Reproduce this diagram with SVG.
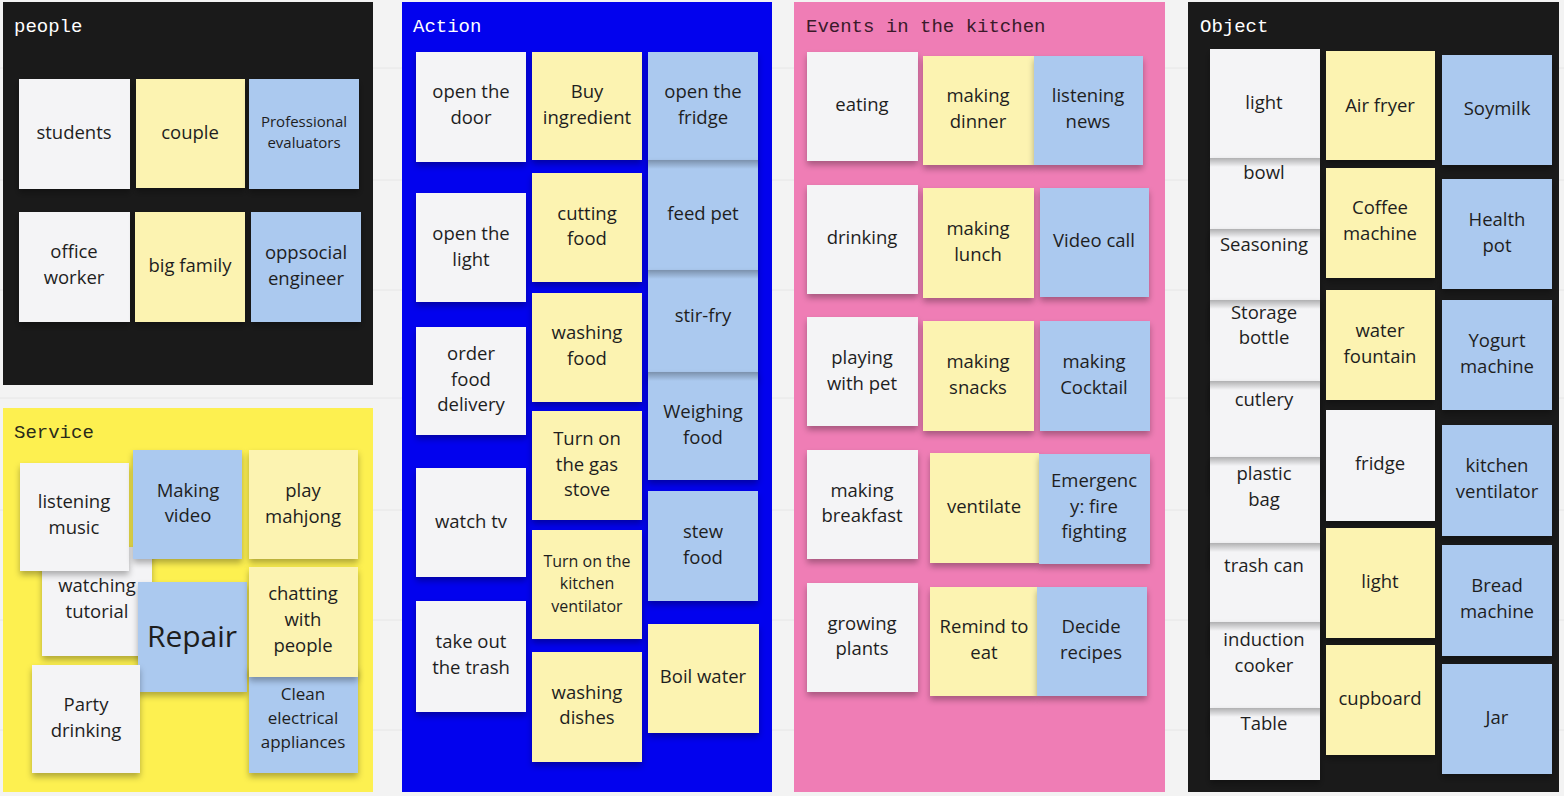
<svg xmlns="http://www.w3.org/2000/svg" width="1564" height="796" viewBox="0 0 1564 796">
<style>
.bg{fill:#f3f3f3}
.w{fill:#f4f4f6}
.y{fill:#fcf3b1}
.b{fill:#abc9ef}
.s{filter:url(#sh)}
.t{font-family:"Open Sans","Noto Sans",sans-serif;font-size:18.5px;fill:#1e1e1e;text-anchor:middle}
.sm{font-size:15px}
.m16{font-size:16px}
.m17{font-size:17px}
.big{font-size:30px}
.title{font-family:"Liberation Mono","DejaVu Sans Mono",monospace;font-size:19px}
.peel{fill:url(#pg)}
</style>
<defs>
<filter id="sh" x="-10%" y="-10%" width="120%" height="130%">
<feDropShadow dx="0" dy="4" stdDeviation="3" flood-color="#000" flood-opacity="0.3"/>
</filter>
<linearGradient id="pg" x1="0" y1="0" x2="0" y2="1">
<stop offset="0" stop-color="#000" stop-opacity="0.28"/>
<stop offset="1" stop-color="#000" stop-opacity="0"/>
</linearGradient>
</defs>
<rect class="bg" x="0" y="0" width="1564" height="796"/>
<g stroke="#e6e6e6" stroke-width="1">
<line x1="0" y1="68" x2="1564" y2="68"/>
<line x1="0" y1="180" x2="1564" y2="180"/>
<line x1="0" y1="290" x2="1564" y2="290"/>
<line x1="0" y1="398" x2="1564" y2="398"/>
<line x1="0" y1="510" x2="1564" y2="510"/>
<line x1="0" y1="620" x2="1564" y2="620"/>
<line x1="0" y1="730" x2="1564" y2="730"/>
</g>

<!-- Panels -->
<g id="panel-people">
<rect x="3" y="2" width="370" height="383" fill="#1a1a1a"/>
<text class="title" x="14" y="32" fill="#ffffff">people</text>
</g>
<g id="panel-service">
<rect x="3" y="408" width="370" height="384" fill="#fdf050"/>
<text class="title" x="14" y="438" fill="#2a2a1a">Service</text>
</g>
<g id="panel-action">
<rect x="402" y="2" width="370" height="790" fill="#0202ee"/>
<text class="title" x="413" y="32" fill="#ffffff">Action</text>
</g>
<g id="panel-events">
<rect x="794" y="2" width="371" height="790" fill="#ef7db5"/>
<text class="title" x="806" y="32" fill="#3a1a2a">Events in the kitchen</text>
</g>
<g id="panel-object">
<rect x="1188" y="2" width="371" height="790" fill="#1a1a1a"/>
<text class="title" x="1200" y="32" fill="#ffffff">Object</text>
</g>

<!-- People -->
<g id="p-students"><rect class="w s" x="19" y="79" width="111" height="110"/><text class="t" x="74" y="139">students</text></g>
<g id="p-couple"><rect class="y s" x="136" y="79" width="109" height="109"/><text class="t" x="190" y="139">couple</text></g>
<g id="p-evaluators"><rect class="b s" x="249" y="79" width="110" height="110"/><text class="t sm" x="304" y="127">Professional</text><text class="t sm" x="304" y="148">evaluators</text></g>
<g id="p-office"><rect class="w s" x="19" y="212" width="111" height="110"/><text class="t" x="74" y="258">office</text><text class="t" x="74" y="284">worker</text></g>
<g id="p-bigfamily"><rect class="y s" x="135" y="212" width="110" height="110"/><text class="t" x="190" y="272">big family</text></g>
<g id="p-engineer"><rect class="b s" x="251" y="212" width="110" height="110"/><text class="t" x="306" y="259">oppsocial</text><text class="t" x="306" y="285">engineer</text></g>

<!-- Service -->
<g id="s-tutorial"><rect class="w s" x="42" y="547" width="110" height="109"/><text class="t" x="97" y="592">watching</text><text class="t" x="97" y="618">tutorial</text></g>
<g id="s-music"><rect class="w s" x="20" y="463" width="109" height="108"/><text class="t" x="74" y="508">listening</text><text class="t" x="74" y="534">music</text></g>
<g id="s-video"><rect class="b s" x="133" y="450" width="109" height="109"/><text class="t" x="188" y="497">Making</text><text class="t" x="188" y="522">video</text></g>
<g id="s-mahjong"><rect class="y s" x="249" y="450" width="109" height="109"/><text class="t" x="303" y="497">play</text><text class="t" x="303" y="523">mahjong</text></g>
<g id="s-repair"><rect class="b s" x="138" y="582" width="109" height="110"/><text class="t big" x="192" y="647">Repair</text></g>
<g id="s-party"><rect class="w s" x="32" y="665" width="108" height="108"/><text class="t" x="86" y="711">Party</text><text class="t" x="86" y="737">drinking</text></g>
<g id="s-clean"><rect class="b s" x="249" y="666" width="109" height="107"/><text class="t m17" x="303" y="700">Clean</text><text class="t m17" x="303" y="724">electrical</text><text class="t m17" x="303" y="748">appliances</text></g>
<g id="s-chatting"><rect class="y s" x="249" y="567" width="109" height="110"/><text class="t" x="303" y="600">chatting</text><text class="t" x="303" y="626">with</text><text class="t" x="303" y="652">people</text></g>

<!-- Action -->
<g id="a-door"><rect class="w s" x="416" y="52" width="110" height="110"/><text class="t" x="471" y="98">open the</text><text class="t" x="471" y="124">door</text></g>
<g id="a-light"><rect class="w s" x="416" y="193" width="110" height="109"/><text class="t" x="471" y="240">open the</text><text class="t" x="471" y="266">light</text></g>
<g id="a-delivery"><rect class="w s" x="416" y="327" width="110" height="108"/><text class="t" x="471" y="360">order</text><text class="t" x="471" y="386">food</text><text class="t" x="471" y="411">delivery</text></g>
<g id="a-tv"><rect class="w s" x="416" y="468" width="110" height="109"/><text class="t" x="471" y="528">watch tv</text></g>
<g id="a-trash"><rect class="w s" x="416" y="601" width="110" height="111"/><text class="t" x="471" y="648">take out</text><text class="t" x="471" y="674">the trash</text></g>
<g id="a-buy"><rect class="y s" x="532" y="52" width="110" height="108"/><text class="t" x="587" y="98">Buy</text><text class="t" x="587" y="124">ingredient</text></g>
<g id="a-cutting"><rect class="y s" x="532" y="173" width="110" height="109"/><text class="t" x="587" y="220">cutting</text><text class="t" x="587" y="245">food</text></g>
<g id="a-washfood"><rect class="y s" x="532" y="293" width="110" height="109"/><text class="t" x="587" y="339">washing</text><text class="t" x="587" y="365">food</text></g>
<g id="a-gas"><rect class="y s" x="532" y="411" width="110" height="109"/><text class="t" x="587" y="445">Turn on</text><text class="t" x="587" y="471">the gas</text><text class="t" x="587" y="496">stove</text></g>
<g id="a-ventilator"><rect class="y s" x="532" y="530" width="110" height="109"/><text class="t m16" x="587" y="567">Turn on the</text><text class="t m16" x="587" y="589">kitchen</text><text class="t m16" x="587" y="612">ventilator</text></g>
<g id="a-dishes"><rect class="y s" x="532" y="652" width="110" height="110"/><text class="t" x="587" y="699">washing</text><text class="t" x="587" y="724">dishes</text></g>
<g id="a-fridge"><rect class="b s" x="648" y="52" width="110" height="110"/><text class="t" x="703" y="98">open the</text><text class="t" x="703" y="124">fridge</text></g>
<g id="a-feed"><rect class="b s" x="648" y="160" width="110" height="110"/><rect class="peel" x="648" y="160" width="110" height="9"/><text class="t" x="703" y="220">feed pet</text></g>
<g id="a-stirfry"><rect class="b s" x="648" y="270" width="110" height="110"/><rect class="peel" x="648" y="270" width="110" height="9"/><text class="t" x="703" y="322">stir-fry</text></g>
<g id="a-weighing"><rect class="b s" x="648" y="372" width="110" height="108"/><rect class="peel" x="648" y="372" width="110" height="9"/><text class="t" x="703" y="418">Weighing</text><text class="t" x="703" y="444">food</text></g>
<g id="a-stew"><rect class="b s" x="648" y="491" width="110" height="110"/><text class="t" x="703" y="538">stew</text><text class="t" x="703" y="564">food</text></g>
<g id="a-boil"><rect class="y s" x="648" y="624" width="111" height="109"/><text class="t" x="703" y="683">Boil water</text></g>

<!-- Events -->
<g id="e-eating"><rect class="w s" x="807" y="52" width="111" height="109"/><text class="t" x="862" y="111">eating</text></g>
<g id="e-drinking"><rect class="w s" x="807" y="185" width="111" height="109"/><text class="t" x="862" y="244">drinking</text></g>
<g id="e-pet"><rect class="w s" x="807" y="317" width="111" height="109"/><text class="t" x="862" y="364">playing</text><text class="t" x="862" y="390">with pet</text></g>
<g id="e-breakfast"><rect class="w s" x="807" y="450" width="111" height="109"/><text class="t" x="862" y="497">making</text><text class="t" x="862" y="522">breakfast</text></g>
<g id="e-plants"><rect class="w s" x="807" y="583" width="111" height="109"/><text class="t" x="862" y="630">growing</text><text class="t" x="862" y="655">plants</text></g>
<g id="e-dinner"><rect class="y s" x="923" y="56" width="111" height="109"/><text class="t" x="978" y="102">making</text><text class="t" x="978" y="128">dinner</text></g>
<g id="e-lunch"><rect class="y s" x="923" y="188" width="111" height="110"/><text class="t" x="978" y="235">making</text><text class="t" x="978" y="261">lunch</text></g>
<g id="e-snacks"><rect class="y s" x="923" y="321" width="111" height="110"/><text class="t" x="978" y="368">making</text><text class="t" x="978" y="394">snacks</text></g>
<g id="e-ventilate"><rect class="y s" x="930" y="453" width="109" height="110"/><text class="t" x="984" y="513">ventilate</text></g>
<g id="e-remind"><rect class="y s" x="930" y="587" width="107" height="109"/><text class="t" x="984" y="633">Remind to</text><text class="t" x="984" y="659">eat</text></g>
<g id="e-news"><rect class="b s" x="1034" y="56" width="109" height="109"/><text class="t" x="1088" y="102">listening</text><text class="t" x="1088" y="128">news</text></g>
<g id="e-videocall"><rect class="b s" x="1040" y="188" width="109" height="109"/><text class="t" x="1094" y="247">Video call</text></g>
<g id="e-cocktail"><rect class="b s" x="1040" y="321" width="110" height="110"/><text class="t" x="1094" y="368">making</text><text class="t" x="1094" y="394">Cocktail</text></g>
<g id="e-emergency"><rect class="b s" x="1039" y="454" width="111" height="110"/><text class="t" x="1094" y="487">Emergenc</text><text class="t" x="1094" y="513">y: fire</text><text class="t" x="1094" y="538">fighting</text></g>
<g id="e-recipes"><rect class="b s" x="1037" y="587" width="110" height="109"/><text class="t" x="1091" y="633">Decide</text><text class="t" x="1091" y="659">recipes</text></g>

<!-- Object -->
<g id="o-light1"><rect class="w s" x="1210" y="49" width="110" height="110"/><text class="t" x="1264" y="109">light</text></g>
<g id="o-bowl"><rect class="w s" x="1210" y="158" width="110" height="110"/><rect class="peel" x="1210" y="158" width="110" height="9"/><text class="t" x="1264" y="179">bowl</text></g>
<g id="o-seasoning"><rect class="w s" x="1210" y="229" width="110" height="110"/><rect class="peel" x="1210" y="229" width="110" height="9"/><text class="t" x="1264" y="251">Seasoning</text></g>
<g id="o-storage"><rect class="w s" x="1210" y="300" width="110" height="110"/><rect class="peel" x="1210" y="300" width="110" height="9"/><text class="t" x="1264" y="319">Storage</text><text class="t" x="1264" y="344">bottle</text></g>
<g id="o-cutlery"><rect class="w s" x="1210" y="381" width="110" height="110"/><rect class="peel" x="1210" y="381" width="110" height="9"/><text class="t" x="1264" y="406">cutlery</text></g>
<g id="o-plastic"><rect class="w s" x="1210" y="457" width="110" height="110"/><rect class="peel" x="1210" y="457" width="110" height="9"/><text class="t" x="1264" y="480">plastic</text><text class="t" x="1264" y="506">bag</text></g>
<g id="o-trash"><rect class="w s" x="1210" y="543" width="110" height="110"/><rect class="peel" x="1210" y="543" width="110" height="9"/><text class="t" x="1264" y="572">trash can</text></g>
<g id="o-induction"><rect class="w s" x="1210" y="622" width="110" height="110"/><rect class="peel" x="1210" y="622" width="110" height="9"/><text class="t" x="1264" y="646">induction</text><text class="t" x="1264" y="672">cooker</text></g>
<g id="o-table"><rect class="w s" x="1210" y="708" width="110" height="72"/><rect class="peel" x="1210" y="708" width="110" height="9"/><text class="t" x="1264" y="730">Table</text></g>
<g id="o-airfryer"><rect class="y s" x="1326" y="51" width="109" height="109"/><text class="t" x="1380" y="112">Air fryer</text></g>
<g id="o-coffee"><rect class="y s" x="1326" y="168" width="109" height="110"/><text class="t" x="1380" y="214">Coffee</text><text class="t" x="1380" y="240">machine</text></g>
<g id="o-fountain"><rect class="y s" x="1326" y="290" width="109" height="110"/><text class="t" x="1380" y="337">water</text><text class="t" x="1380" y="363">fountain</text></g>
<g id="o-fridge"><rect class="w s" x="1326" y="410" width="109" height="111"/><text class="t" x="1380" y="470">fridge</text></g>
<g id="o-light2"><rect class="y s" x="1326" y="528" width="109" height="110"/><text class="t" x="1380" y="588">light</text></g>
<g id="o-cupboard"><rect class="y s" x="1326" y="645" width="109" height="110"/><text class="t" x="1380" y="705">cupboard</text></g>
<g id="o-soymilk"><rect class="b s" x="1442" y="55" width="110" height="110"/><text class="t" x="1497" y="115">Soymilk</text></g>
<g id="o-healthpot"><rect class="b s" x="1442" y="179" width="110" height="110"/><text class="t" x="1497" y="226">Health</text><text class="t" x="1497" y="252">pot</text></g>
<g id="o-yogurt"><rect class="b s" x="1442" y="300" width="110" height="110"/><text class="t" x="1497" y="347">Yogurt</text><text class="t" x="1497" y="373">machine</text></g>
<g id="o-ventilator"><rect class="b s" x="1442" y="425" width="110" height="111"/><text class="t" x="1497" y="472">kitchen</text><text class="t" x="1497" y="498">ventilator</text></g>
<g id="o-bread"><rect class="b s" x="1442" y="545" width="110" height="111"/><text class="t" x="1497" y="592">Bread</text><text class="t" x="1497" y="618">machine</text></g>
<g id="o-jar"><rect class="b s" x="1442" y="664" width="110" height="110"/><text class="t" x="1497" y="724">Jar</text></g>
</svg>
